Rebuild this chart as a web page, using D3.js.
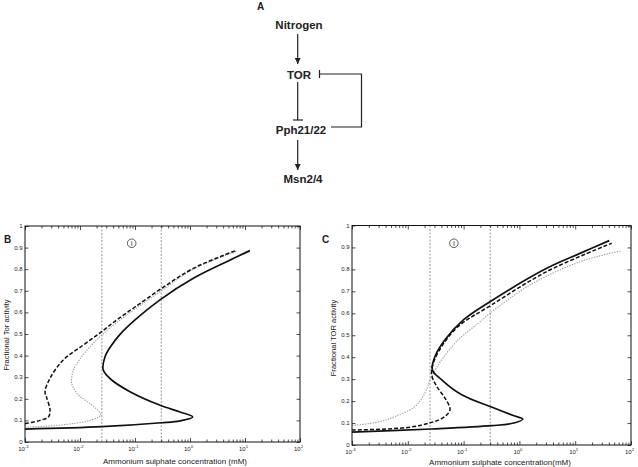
<!DOCTYPE html>
<html>
<head>
<meta charset="utf-8">
<script src="https://cdn.jsdelivr.net/npm/d3@7"></script>
<style>
body { margin: 0; background: #fff; }
svg { display: block; font-family: "Liberation Sans", Arial, sans-serif; }
</style>
</head>
<body>
<svg id="fig" width="638" height="467"></svg>
<script>
// ---- data (concentration in mM, fractional TOR activity) ----
var xMajorTicks = [1e-3, 1e-2, 1e-1, 1e0, 1e1, 1e2];
var xTickExponents = ["-3", "-2", "-1", "0", "1", "2"];
var yTicks = [0, 0.1, 0.2, 0.3, 0.4, 0.5, 0.6, 0.7, 0.8, 0.9, 1];
var yTickLabels = ["0", "0.1", "0.2", "0.3", "0.4", "0.5", "0.6", "0.7", "0.8", "0.9", "1"];
var regionLines = [0.025, 0.3];

// panel B
var bSolidConc = [0.001, 0.025, 0.3, 0.66, 1.12, 0.66, 0.28, 0.081, 0.0377, 0.0265, 0.0285, 0.0377, 0.052, 0.1, 0.28, 1.15, 4.65, 12.3];
var bSolidAct  = [0.060, 0.071, 0.089, 0.098, 0.116, 0.139, 0.171, 0.233, 0.287, 0.333, 0.395, 0.449, 0.495, 0.565, 0.657, 0.758, 0.835, 0.886];
var bDashConc  = [0.001, 0.00188, 0.0027, 0.00285, 0.00248, 0.00231, 0.00285, 0.00497, 0.0115, 0.0248, 0.0464, 0.1, 0.3, 1.15, 6.6];
var bDashAct   = [0.085, 0.100, 0.118, 0.148, 0.205, 0.233, 0.295, 0.380, 0.449, 0.511, 0.565, 0.625, 0.710, 0.804, 0.885];
var bDotConc   = [0.001, 0.005, 0.015, 0.0238, 0.02, 0.013, 0.0093, 0.0071, 0.0076, 0.0107, 0.0163, 0.0248, 0.045, 0.1, 0.3, 1.15, 6.9];
var bDotAct    = [0.068, 0.080, 0.100, 0.125, 0.152, 0.190, 0.218, 0.270, 0.333, 0.395, 0.449, 0.495, 0.550, 0.615, 0.700, 0.800, 0.882];

// panel C
var cSolidConc = [0.001, 0.0268, 0.317, 0.8, 1.15, 0.8, 0.317, 0.0925, 0.0405, 0.0275, 0.0307, 0.0464, 0.099, 0.297, 3.08, 12.2, 40.8];
var cSolidAct  = [0.059, 0.073, 0.088, 0.100, 0.118, 0.133, 0.173, 0.229, 0.297, 0.343, 0.403, 0.479, 0.570, 0.653, 0.805, 0.873, 0.931];
var cDashConc  = [0.001, 0.01, 0.0268, 0.0464, 0.057, 0.0464, 0.033, 0.0268, 0.0287, 0.0405, 0.080, 0.317, 3.08, 45];
var cDashAct   = [0.068, 0.080, 0.103, 0.130, 0.161, 0.214, 0.267, 0.320, 0.373, 0.449, 0.540, 0.638, 0.790, 0.919];
var cDotConc   = [0.001, 0.003, 0.0059, 0.0135, 0.0203, 0.026, 0.0405, 0.080, 0.184, 0.297, 1.55, 12.2, 68];
var cDotAct    = [0.089, 0.105, 0.130, 0.176, 0.237, 0.305, 0.388, 0.479, 0.555, 0.600, 0.729, 0.835, 0.885];

var svg = d3.select("#fig");

function zipCurve(conc, act) {
    return conc.map(function(c, i) { return { c: c, a: act[i] }; });
}

// ---------------- panel A : the network diagram ----------------
function drawDiagram() {
    var defs = svg.append("defs");
    defs.append("marker")
        .attr("id", "arrow")
        .attr("viewBox", "0 0 10 10")
        .attr("refX", 10).attr("refY", 5)
        .attr("markerWidth", 5).attr("markerHeight", 5)
        .attr("orient", "auto")
        .append("path").attr("d", "M0,0 L10,5 L0,10 z").attr("fill", "#222");

    var g = svg.append("g").attr("fill", "#222");
    g.append("text").attr("x", 257).attr("y", 10).attr("font-size", 10).attr("font-weight", "bold").text("A");

    var nodes = [
        { name: "Nitrogen", x: 299, y: 29 },
        { name: "TOR", x: 299, y: 79 },
        { name: "Pph21/22", x: 301, y: 134 },
        { name: "Msn2/4", x: 303, y: 183 }
    ];
    g.selectAll(".node").data(nodes).enter().append("text")
        .attr("x", function(d) { return d.x; })
        .attr("y", function(d) { return d.y; })
        .attr("text-anchor", "middle")
        .attr("font-size", 11.5)
        .attr("font-weight", "bold")
        .text(function(d) { return d.name; });

    var ln = g.append("g").attr("stroke", "#222").attr("stroke-width", 1.2).attr("fill", "none");
    ln.append("line").attr("x1", 297.7).attr("y1", 34).attr("x2", 297.7).attr("y2", 64).attr("marker-end", "url(#arrow)");
    ln.append("line").attr("x1", 297.7).attr("y1", 82).attr("x2", 297.7).attr("y2", 120);
    ln.append("line").attr("x1", 293).attr("y1", 120).attr("x2", 303).attr("y2", 120);
    ln.append("line").attr("x1", 297.7).attr("y1", 140).attr("x2", 297.7).attr("y2", 170).attr("marker-end", "url(#arrow)");
    ln.append("polyline").attr("points", "331,127 361.5,127 361.5,74 319.5,74");
    ln.append("line").attr("x1", 319.5).attr("y1", 70).attr("x2", 319.5).attr("y2", 78);
}

// ---------------- panels B and C ----------------
function drawPanel(p) {
    var x = d3.scaleLog().domain([1e-3, 1e2]).range([p.left, p.right]);
    var y = d3.scaleLinear().domain([0, 1]).range([p.bottom, p.top]);
    var minor = x.ticks().filter(function(t) { return xMajorTicks.indexOf(t) < 0; });

    var g = svg.append("g");

    // curves first, frame on top
    var line = d3.line()
        .x(function(d) { return x(d.c); })
        .y(function(d) { return y(d.a); })
        .curve(d3.curveCatmullRom.alpha(0.5));

    var clip = "clip" + p.label;
    svg.select("defs").append("clipPath").attr("id", clip)
        .append("rect").attr("x", p.left).attr("y", p.top)
        .attr("width", p.right - p.left).attr("height", p.bottom - p.top);

    var plot = g.append("g").attr("clip-path", "url(#" + clip + ")");

    plot.selectAll(".region").data(regionLines).enter().append("line")
        .attr("x1", function(d) { return x(d); }).attr("x2", function(d) { return x(d); })
        .attr("y1", p.top).attr("y2", p.bottom)
        .attr("stroke", "#999").attr("stroke-width", 1).attr("stroke-dasharray", "2,1.5");

    plot.append("path").datum(p.dot).attr("d", line)
        .attr("fill", "none").attr("stroke", "#9a9a9a").attr("stroke-width", 1.1).attr("stroke-dasharray", "1.3,1.3");
    plot.append("path").datum(p.dash).attr("d", line)
        .attr("fill", "none").attr("stroke", "#111").attr("stroke-width", 1.5).attr("stroke-dasharray", "4,2");
    plot.append("path").datum(p.solid).attr("d", line)
        .attr("fill", "none").attr("stroke", "#111").attr("stroke-width", 1.7);

    // circled region marker
    var mx = x(p.marker[0]), my = y(p.marker[1]);
    g.append("circle").attr("cx", mx).attr("cy", my).attr("r", 4.3)
        .attr("fill", "none").attr("stroke", "#333").attr("stroke-width", 0.8);
    g.append("text").attr("x", mx).attr("y", my + 2.4).attr("text-anchor", "middle")
        .attr("font-size", 7).attr("fill", "#333").text("I");

    // axes with inward ticks
    function axisG(gen, tx, ty) {
        var a = g.append("g").attr("transform", "translate(" + tx + "," + ty + ")").call(gen);
        a.select(".domain").remove();
        a.selectAll("line").attr("stroke", "#222").attr("stroke-width", 0.8);
        return a;
    }
    axisG(d3.axisBottom(x).tickValues(xMajorTicks).tickSize(-4).tickFormat(""), 0, p.bottom);
    axisG(d3.axisBottom(x).tickValues(minor).tickSize(-2.5).tickFormat(""), 0, p.bottom);
    axisG(d3.axisTop(x).tickValues(xMajorTicks).tickSize(-4).tickFormat(""), 0, p.top);
    axisG(d3.axisTop(x).tickValues(minor).tickSize(-2.5).tickFormat(""), 0, p.top);
    axisG(d3.axisLeft(y).tickValues(yTicks).tickSize(-3.5).tickFormat(""), p.left, 0);
    axisG(d3.axisRight(y).tickValues(yTicks).tickSize(-3.5).tickFormat(""), p.right, 0);

    g.append("rect").attr("x", p.left).attr("y", p.top)
        .attr("width", p.right - p.left).attr("height", p.bottom - p.top)
        .attr("fill", "none").attr("stroke", "#111").attr("stroke-width", 1);

    // tick labels
    var xl = g.selectAll(".xl").data(xMajorTicks).enter().append("text")
        .attr("x", function(d) { return x(d) - 1.5; })
        .attr("y", p.bottom + 9)
        .attr("text-anchor", "middle")
        .attr("font-size", 6).attr("fill", "#222");
    xl.append("tspan").text("10");
    xl.append("tspan").attr("dy", -2.8).attr("font-size", 4.2)
        .text(function(d, i) { return xTickExponents[i]; });

    g.selectAll(".yl").data(yTicks).enter().append("text")
        .attr("x", p.left - 2.5)
        .attr("y", function(d) { return y(d) + 2; })
        .attr("text-anchor", "end")
        .attr("font-size", 6).attr("fill", "#222")
        .text(function(d, i) { return yTickLabels[i]; });

    // axis titles
    g.append("text").attr("x", p.xTitle[0]).attr("y", p.xTitle[1])
        .attr("text-anchor", "middle").attr("font-size", 8).attr("fill", "#222")
        .text(p.xText);
    g.append("text")
        .attr("transform", "translate(" + p.yTitle[0] + "," + p.yTitle[1] + ") rotate(-90)")
        .attr("text-anchor", "middle").attr("font-size", 7.6).attr("fill", "#222")
        .text(p.yText);

    svg.append("text").attr("x", p.labelPos[0]).attr("y", p.labelPos[1])
        .attr("font-size", 10).attr("font-weight", "bold").attr("fill", "#222")
        .text(p.label);
}

drawDiagram();

drawPanel({
    label: "B", labelPos: [4, 243],
    left: 25, right: 300, top: 226, bottom: 442,
    solid: zipCurve(bSolidConc, bSolidAct),
    dash: zipCurve(bDashConc, bDashAct),
    dot: zipCurve(bDotConc, bDotAct),
    marker: [0.087, 0.92],
    xText: "Ammonium sulphate concentration (mM)", xTitle: [175, 464],
    yText: "Fractional Tor activity", yTitle: [8.5, 335]
});

drawPanel({
    label: "C", labelPos: [322, 243],
    left: 352, right: 631, top: 225.5, bottom: 445,
    solid: zipCurve(cSolidConc, cSolidAct),
    dash: zipCurve(cDashConc, cDashAct),
    dot: zipCurve(cDotConc, cDotAct),
    marker: [0.067, 0.919],
    xText: "Ammonium sulphate concentration(mM)", xTitle: [500, 464.5],
    yText: "Fractional TOR activity", yTitle: [335.5, 338]
});
</script>
</body>
</html>
